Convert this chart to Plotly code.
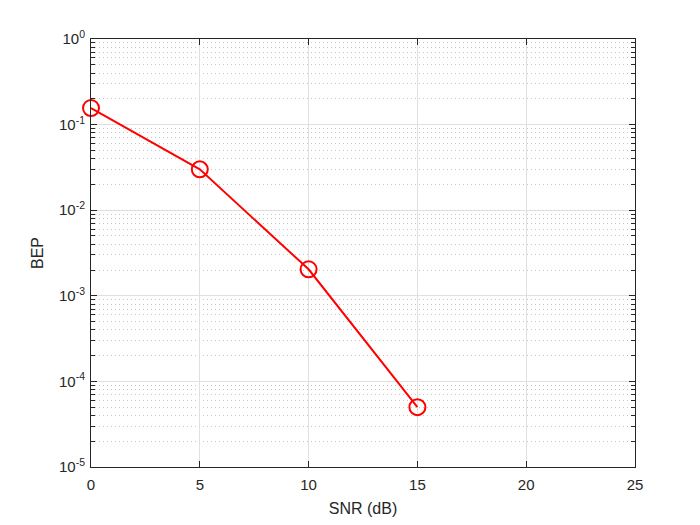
import plotly.graph_objects as go

snr_db = [0, 5, 10, 15]
bep = [0.156, 0.030, 0.00204, 5.0e-5]

x_ticks = [0, 5, 10, 15, 20, 25]
y_ticks = [1e-5, 1e-4, 1e-3, 1e-2, 1e-1, 1e0]
y_tick_labels = ["10<sup>-5</sup>", "10<sup>-4</sup>", "10<sup>-3</sup>",
                 "10<sup>-2</sup>", "10<sup>-1</sup>", "10<sup>0</sup>"]

FONT = "Liberation Sans, Arial"

fig = go.Figure()
fig.add_trace(go.Scatter(
    x=snr_db, y=bep, mode="lines+markers",
    line=dict(color="#ff0000", width=2),
    marker=dict(symbol="circle-open", size=16, color="#ff0000", line=dict(width=2, color="#ff0000")),
    cliponaxis=False, showlegend=False,
))

axis_common = dict(
    showline=True, linecolor="#262626", linewidth=1, mirror="ticks",
    ticks="inside", ticklen=6, tickcolor="#262626",
    gridcolor="#e0e0e0", gridwidth=1, zeroline=False, automargin=False,
    tickfont=dict(family=FONT, size=15, color="#262626"),
)

fig.update_xaxes(
    range=[0, 25], tickvals=x_ticks, ticklabelstandoff=4,
    title=dict(text="SNR (dB)", font=dict(family=FONT, size=16, color="#262626"), standoff=10),
    **axis_common,
)
fig.update_yaxes(
    type="log", range=[-5, 0], tickvals=y_ticks, ticktext=y_tick_labels, ticklabelstandoff=2,
    title=dict(text="BEP", font=dict(family=FONT, size=16, color="#262626"), standoff=11),
    minor=dict(dtick="D1", showgrid=True, gridcolor="#c6c6c6", griddash="1px,3px", gridwidth=1,
               ticks="inside", ticklen=4, tickcolor="#262626"),
    **axis_common,
)

fig.update_layout(
    width=700, height=525,
    margin=dict(l=83, r=73, t=31, b=66),
    paper_bgcolor="white", plot_bgcolor="white",
    font=dict(family=FONT, color="#262626"),
)

fig.write_html("out.html")
